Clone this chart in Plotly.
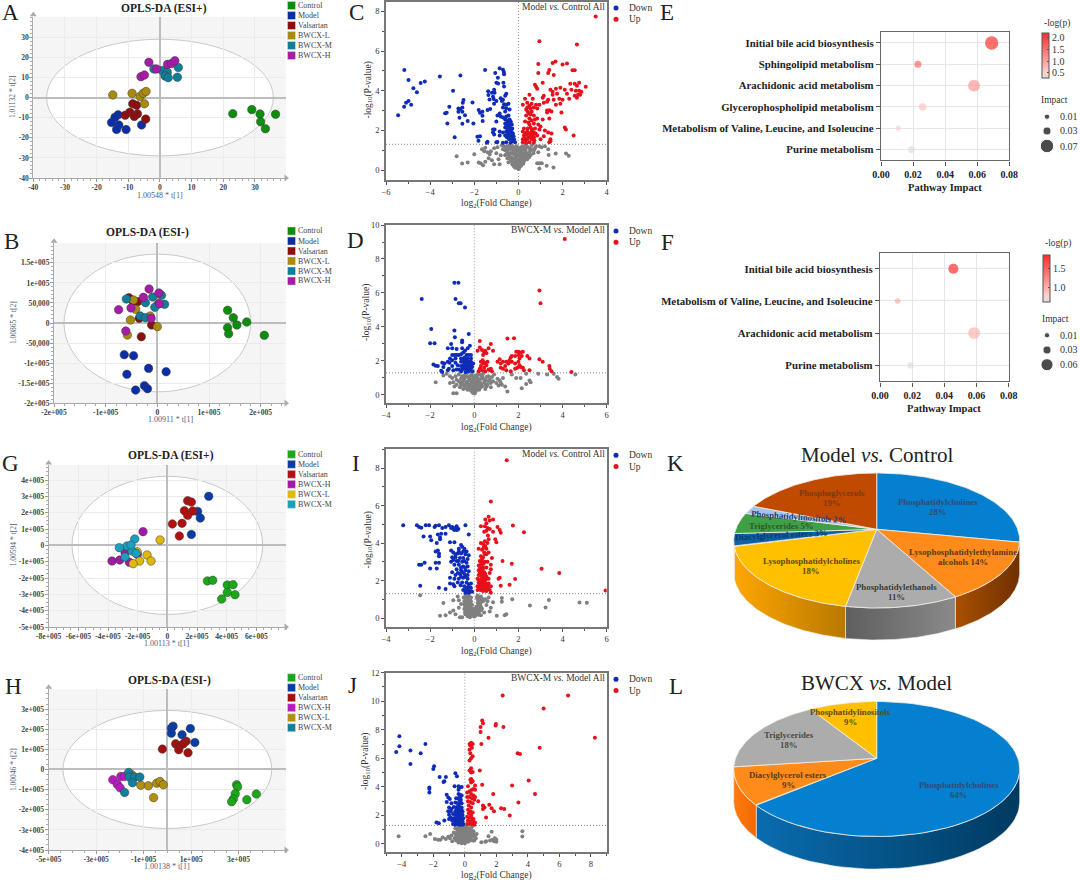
import numpy as np
import plotly.graph_objects as go

W, H = 1080, 882
SERIF = "Liberation Serif"

# ---- OPLS-DA scores
A_control = [(23, -8), (29, -6), (31.6, -8.2), (31.8, -12), (33.3, -15.5), (36.5, -8.3)]
A_model = [(-13.2, -8.6), (-14.2, -9.8), (-15.3, -12.4), (-13, -13.6), (-13.7, -15.9), (-10.7, -15.9), (-5.8, -13.6)]
A_valsartan = [(-11, -8.8), (-9.5, -7.3), (-8.6, -3.1), (-7.4, -3.8), (-7.1, -8.1), (-8.1, -9.4), (-4.5, -10.7)]
A_low = [(-14.9, 1.3), (-8.8, 2.1), (-6.3, 0.5), (-5.3, 2.1), (-4.4, 3), (-4.9, -3.1)]
A_mid = [(-1.9, 14.2), (0.7, 13.4), (2.3, 12.6), (1.6, 10.7), (2.6, 9.9), (5.5, 10.1), (5.8, 14.9)]
A_high = [(-3.5, 17.5), (-1.1, 14.2), (2.4, 16.5), (3.7, 16.9), (4.7, 18.3), (-6, 10.4), (-4.9, 11.2)]

B_control = [(136000, 31600), (147000, 13300), (154000, -5000), (173000, 2500), (136000, -11600), (138000, -26600), (207000, -30700)]
B_model = [(-64000, -78900), (-46000, -81400), (-17000, -113000), (17000, -121300), (-59000, -127900), (-25000, -156100), (-19000, -163600), (-42000, -167000)]
B_valsartan = [(-55000, 63100), (-38000, 53200), (-46000, 50700), (-35000, 11600), (-11000, -5000), (-31000, -34100), (2000, 47300)]
B_low = [(-46000, 57300), (-42000, 34100), (-52000, 7500), (-14000, 17400), (0, -9100), (-58000, -29900)]
B_mid = [(-60000, 59800), (-23000, 50700), (-9000, 64800), (8000, 68900), (14000, 46500), (-5000, 39000), (-33000, 17400), (-23000, 13300)]
B_high = [(-16000, 84700), (3000, 74800), (-27000, 64000), (-51000, 37400), (-75000, 33200), (4000, 48200), (-12000, 11600), (-61000, -19900)]

G_control = [(270000, -218000), (306000, -214000), (404000, -243000), (443000, -241000), (404000, -288000), (456000, -302000), (366000, -329000)]
G_model = [(279000, 300000), (204000, 208000), (222000, 167000), (162000, 67000)]
G_valsartan = [(137000, 273000), (162000, 265000), (115000, 212000), (171000, 210000), (137000, 184000), (34000, 131000), (99000, 135000), (81000, 57000)]
G_high = [(-164000, 84000), (-285000, -45000), (-373000, -96000), (-321000, -90000), (-256000, -104000), (-202000, -55000)]
G_low = [(-49000, 33000), (-137000, -59000), (-187000, -96000), (-110000, -96000), (-231000, -112000), (-204000, -39000)]
G_mid = [(-220000, 39000), (-272000, -4000), (-324000, -14000), (-238000, -35000), (-211000, -49000), (-285000, -71000), (-245000, 2000)]

H_control = [(292000, -76000), (296000, -86000), (286000, -121000), (278000, -147000), (271000, -160000), (335000, -150000), (375000, -122000)]
H_model = [(24000, 215000), (17000, 205000), (17000, 180000), (62000, 172000), (97000, 203000), (116000, 134000)]
H_valsartan = [(-21000, 101000), (35000, 127000), (79000, 140000), (67000, 127000), (53000, 117000), (48000, 98000), (87000, 83000)]
H_high = [(-230000, -51000), (-196000, -35000), (-211000, -74000), (-199000, -91000), (-182000, -35000)]
H_low = [(-112000, -78000), (-80000, -81000), (-45000, -68000), (-31000, -60000), (-17000, -76000), (-58000, -140000), (-150000, -26000)]
H_mid = [(-163000, -15000), (-160000, -38000), (-138000, -38000), (-116000, -38000), (-147000, -66000), (-180000, -114000)]

# ---- volcano points
C_down = [(-5.45, 2.76), (-5.18, 3.19), (-5.17, 5.04), (-5.09, 3.39), (-4.98, 3.48), (-4.86, 3.29), (-4.98, 4.54), (-4.76, 4.12), (-4.6, 3.93), (-4.43, 4.39), (-4.24, 4.47), (-3.56, 4.72), (-2.96, 4.0), (-2.63, 4.77), (-3.32, 2.86), (-3.25, 2.89), (-3.13, 3.19), (-3.22, 2.35), (-2.89, 1.65), (-2.72, 3.11), (-2.64, 3.08), (-2.54, 3.16), (-2.49, 3.53), (-2.52, 3.39), (-2.72, 2.94), (-2.54, 2.94), (-2.42, 2.77), (-2.67, 2.64), (-2.54, 2.34), (-2.3, 2.47), (-2.08, 3.41), (-2.04, 2.35), (-1.8, 3.03), (-1.74, 2.89), (-1.63, 2.94), (-1.63, 2.74), (-1.62, 2.47), (-1.86, 1.68), (-1.74, 1.71), (-1.81, 1.48), (-1.51, 5.04), (-1.37, 3.97), (-1.36, 3.78), (-1.31, 3.56), (-1.4, 3.03), (-1.28, 3.08), (-1.4, 1.43), (-1.43, 1.38),
          (-0.85, 5.14), (-0.7, 5.06), (-0.66, 4.95), (-0.65, 4.83), (-1.05, 4.9), (-0.93, 4.65), (-1, 4.4), (-0.92, 4.37), (-0.68, 4.4), (-0.65, 4.22), (-1.1, 4.05), (-1.08, 3.9), (-1.2, 3.9), (-0.55, 3.85), (-0.6, 3.75), (-1.15, 3.7), (-1.12, 3.58), (-0.8, 3.62), (-1, 3.48), (-0.75, 3.48), (-0.7, 3.55), (-1.1, 3.35), (-0.65, 3.32), (-0.55, 3.3), (-0.45, 3.35), (-0.7, 3.15), (-0.55, 3.12), (-0.4, 3.05), (-0.6, 2.95), (-0.85, 2.85), (-0.95, 2.75), (-1.0, 2.45), (-0.8, 2.7), (-0.7, 2.65), (-0.55, 2.7), (-0.45, 2.75), (-0.6, 2.55), (-0.5, 2.5), (-0.4, 2.55), (-0.35, 2.45), (-0.6, 2.35), (-0.52, 2.3), (-0.42, 2.3), (-0.3, 2.3), (-0.6, 2.15), (-0.5, 2.12), (-0.38, 2.15), (-0.28, 2.1), (-1.15, 2.05), (-1.08, 2.05), (-1.15, 1.9), (-1.1, 1.8), (-0.85, 1.95), (-0.7, 1.9), (-0.55, 1.95), (-0.42, 1.95), (-0.32, 1.95), (-0.25, 1.85), (-0.85, 1.75), (-0.6, 1.75), (-0.45, 1.75), (-0.35, 1.7), (-0.22, 1.7), (-0.3, 1.55), (-0.42, 1.55), (-0.25, 1.45), (-0.35, 1.38), (-0.55, 1.4), (-0.7, 1.38), (-0.95, 1.42), (-1.0, 1.4), (-0.15, 1.4),
          (-0.46, 2.05), (-0.34, 2.02), (-0.5, 1.85), (-0.38, 1.82), (-0.28, 1.78), (-0.52, 1.65), (-0.4, 1.62), (-0.28, 1.6), (-0.2, 1.55), (-0.48, 2.4), (-0.36, 2.38), (-0.55, 2.22), (-0.44, 2.2)]
C_up = [(3.5, 7.75), (0.95, 6.5), (2.65, 6.33), (0.9, 5.35), (1.55, 5.4), (1.68, 5.47), (2.2, 5.38), (2.0, 5.32), (1.4, 5.05), (1.35, 4.9), (2.45, 5.03), (2.55, 5.03), (0.9, 4.9), (1.6, 4.8), (1.1, 4.4), (0.75, 4.3), (0.8, 4.2), (0.85, 4.1), (3.05, 4.2), (2.35, 4.35), (2.55, 4.35), (2.75, 4.4), (2.65, 4.25), (1.7, 4.1), (1.45, 4.05), (1.55, 3.95), (1.9, 4.15), (2.1, 4.05), (2.4, 4.05), (2.6, 4.0), (2.75, 4.0), (2.85, 3.95), (1.55, 3.8), (1.75, 3.85), (2.2, 3.85), (2.55, 3.75), (2.65, 3.65), (2.8, 3.8), (0.5, 3.8), (0.3, 3.6), (0.65, 3.6), (1.1, 3.65), (1.15, 3.75), (1.35, 3.55), (1.6, 3.55), (1.85, 3.6), (2.0, 3.55), (2.3, 3.6), (2.7, 3.8), (0.2, 3.3), (0.4, 3.4), (0.6, 3.35), (0.8, 3.3), (0.95, 3.3), (1.15, 3.4), (1.3, 3.45), (1.7, 3.3), (1.9, 3.35), (0.4, 3.15), (0.55, 3.1), (0.7, 3.15), (0.85, 3.1), (0.42, 2.95), (0.6, 2.95), (1.3, 3.0), (1.4, 3.02), (1.5, 2.95), (1.95, 2.9), (0.35, 2.75), (0.55, 2.8), (0.7, 2.75), (1.3, 2.9), (0.5, 2.6), (0.75, 2.55), (0.85, 2.6), (1.1, 2.55), (1.4, 2.6), (0.3, 2.45), (0.45, 2.4), (0.7, 2.35), (0.9, 2.3), (1.0, 2.2), (0.25, 2.1), (0.55, 2.15), (0.75, 2.1), (0.95, 2.05), (2.1, 2.15), (2.15, 2.05), (0.2, 1.95), (0.4, 1.95), (0.6, 1.95), (0.7, 1.9), (1.2, 2.0), (1.35, 1.9), (1.5, 1.85), (0.25, 1.75), (0.35, 1.78), (0.55, 1.75), (0.65, 1.75), (0.85, 1.75), (1.15, 1.7), (1.45, 1.55), (2.5, 1.75), (0.2, 1.55), (0.3, 1.55), (0.4, 1.55), (0.6, 1.55), (0.72, 1.5), (1.0, 1.55), (0.2, 1.4), (0.35, 1.38), (0.5, 1.4), (0.7, 1.38), (1.4, 1.4), (1.45, 1.45),
        (0.3, 1.85), (0.48, 1.85), (0.62, 1.85), (0.78, 1.85), (0.28, 1.62), (0.45, 1.65), (0.58, 1.65), (0.7, 1.65), (0.42, 2.1), (0.62, 2.05), (0.5, 2.3), (0.6, 2.5), (0.48, 2.85), (0.35, 3.05), (0.5, 3.25)]
C_ns = [(-2.8, 0.7), (-2.55, 0.33), (-2.3, 0.38), (-2.0, 0.8), (-1.8, 0.38), (-1.7, 0.33), (-1.6, 0.25), (-1.65, 1.05), (-1.5, 1.12), (-1.55, 0.95), (-1.4, 0.9), (-1.3, 0.8), (-1.25, 0.95), (-1.1, 1.1), (-1.0, 0.85), (-1.35, 0.6), (-1.5, 0.42), (-1.2, 0.5), (-1.1, 0.3), (-0.9, 0.55), (-0.85, 0.3), (-0.8, 0.75), (-0.65, 1.2), (-0.6, 1.0), (-0.55, 0.8), (-0.5, 0.6), (-0.45, 0.4), (-0.4, 1.25), (-0.4, 1.05), (-0.35, 0.85), (-0.32, 0.65), (-0.3, 0.45), (-0.25, 1.2), (-0.22, 1.0), (-0.2, 0.8), (-0.18, 0.6), (-0.15, 0.35), (-0.12, 1.1), (-0.1, 0.85), (-0.1, 0.6), (-0.08, 0.35), (-0.05, 0.2), (-0.02, 0.08), (0.02, 0.05), (0.05, 0.15), (0.08, 0.3), (0.1, 0.55), (0.1, 0.85), (0.12, 1.15), (0.15, 0.35), (0.18, 0.6), (0.2, 0.85), (0.22, 1.2), (0.25, 0.45), (0.3, 0.7), (0.32, 1.0), (0.35, 1.25), (0.4, 0.55), (0.42, 0.85), (0.5, 1.1), (0.55, 0.75), (0.6, 1.25), (0.7, 1.0), (0.8, 1.2), (0.9, 0.9), (1.05, 1.15), (1.2, 1.2), (1.35, 1.05), (0.85, 0.35), (0.95, 0.34), (0.95, 0.08), (1.28, 0.22), (1.59, 0.13), (1.69, 0.84), (1.37, 0.76), (2.16, 0.84), (2.28, 0.72), (1.06, 0.34),
        (-0.5, 1.2), (-0.48, 1.0), (-0.45, 0.8), (-0.4, 0.7), (-0.35, 0.55), (-0.28, 0.3), (-0.22, 0.2), (-0.15, 0.12), (-0.3, 1.1), (-0.15, 0.95), (-0.05, 1.0), (-0.05, 0.72), (-0.05, 0.45), (0.02, 1.1), (0.02, 0.75), (0.02, 0.45), (0.02, 0.25), (0.05, 0.95), (0.08, 0.7), (0.08, 0.42), (0.12, 0.22), (0.15, 1.0), (0.18, 0.45), (0.22, 0.72), (0.28, 1.12), (0.28, 0.85), (0.35, 0.62), (0.42, 1.15), (0.5, 0.9), (0.62, 1.05), (-0.7, 1.05), (-0.75, 1.25), (-0.95, 1.15),
        (-0.6, 0.75), (-0.55, 1.15), (-0.5, 0.9), (-0.42, 0.6), (-0.36, 1.18), (-0.28, 0.9), (-0.26, 0.55), (-0.2, 0.35), (-0.15, 0.75), (-0.15, 0.5), (-0.1, 0.22), (-0.08, 1.2), (0.06, 0.55), (0.06, 1.05), (0.14, 0.72), (0.22, 0.32), (0.24, 1.05), (0.3, 0.55), (0.38, 0.75), (0.48, 0.65), (0.55, 1.0), (0.68, 0.85), (0.75, 1.1), (0.95, 1.2)]

D_down = [(-2.38, 5.65), (-0.9, 6.6), (-0.72, 6.6), (-0.85, 5.65), (-0.7, 5.4), (-0.62, 5.4), (-0.42, 5.15), (-1.95, 3.88), (-0.9, 3.8), (-0.25, 3.58), (-0.88, 3.4), (-2.0, 3.05), (-1.8, 3.05), (-0.55, 3.2), (-0.55, 3.1), (-1.05, 3.0), (-0.2, 2.9), (-1.2, 2.75), (-1.0, 2.75), (-0.8, 2.7), (-0.55, 2.75), (-0.3, 2.75), (-1.0, 2.35), (-0.9, 2.35), (-0.8, 2.35), (-0.7, 2.35), (-0.6, 2.4), (-0.5, 2.5), (-0.42, 2.6), (-0.35, 2.35), (-0.25, 2.35), (-0.15, 2.35), (-1.1, 2.15), (-1.0, 2.05), (-0.85, 2.15), (-0.6, 2.15), (-0.45, 2.2), (-0.3, 2.15), (-0.15, 2.15), (-1.2, 1.95), (-1.12, 1.9), (-1.35, 1.85), (-1.85, 1.8), (-1.75, 1.72), (-1.65, 1.7), (-1.45, 1.9), (-0.85, 1.9), (-0.6, 1.95), (-0.5, 1.95), (-0.38, 1.95), (-0.25, 1.95), (-0.15, 1.95), (-0.05, 1.85), (-1.4, 1.65), (-1.0, 1.7), (-0.75, 1.75), (-0.6, 1.7), (-0.48, 1.75), (-0.35, 1.75), (-0.22, 1.75), (-0.1, 1.65), (-1.5, 1.42), (-1.45, 1.35), (-1.2, 1.45), (-1.15, 1.55), (-0.95, 1.45), (-0.8, 1.5), (-0.7, 1.5), (-0.55, 1.5), (-0.42, 1.55), (-0.3, 1.5), (-0.2, 1.5), (-0.08, 1.4), (-0.6, 1.38), (-0.4, 1.35), (-0.25, 1.38),
          (-0.42, 1.62), (-0.3, 1.62), (-0.52, 1.62), (-0.28, 1.85), (-0.42, 1.85), (-0.12, 1.78), (-0.15, 1.58), (-0.5, 2.08), (-0.38, 2.08)]
D_up = [(4.1, 9.18), (2.95, 6.15), (3.0, 5.4), (1.5, 3.32), (1.8, 3.33), (0.25, 3.18), (0.75, 3.0), (0.25, 2.8), (0.35, 2.65), (0.15, 2.6), (0.5, 2.6), (0.45, 2.5), (0.65, 2.75), (0.85, 2.6), (0.4, 2.35), (0.55, 2.45), (1.9, 2.55), (2.0, 2.55), (2.1, 2.5), (2.2, 2.55), (2.4, 2.3), (2.5, 2.15), (1.7, 2.3), (1.65, 2.2), (1.85, 2.3), (2.0, 2.35), (2.05, 2.15), (2.15, 2.3), (1.15, 2.1), (1.6, 2.05), (1.7, 1.95), (1.3, 1.95), (1.05, 1.95), (1.2, 1.85), (1.45, 1.95), (1.55, 1.85), (1.85, 1.85), (1.4, 1.7), (1.2, 1.6), (1.3, 1.55), (1.45, 1.45), (1.65, 1.4), (2.0, 1.95), (2.05, 1.75), (2.1, 1.65), (1.95, 1.6), (1.85, 1.55), (2.2, 1.6), (2.25, 1.45), (2.5, 1.45), (2.95, 2.1), (3.1, 1.95), (3.4, 1.7), (3.42, 1.55), (3.5, 1.4), (4.4, 1.35), (0.2, 1.4), (0.25, 1.55), (0.3, 1.7), (0.35, 1.45), (0.4, 1.85), (0.45, 1.6), (0.5, 1.4), (0.55, 1.75), (0.6, 1.95), (0.3, 1.95), (0.38, 2.05), (0.75, 1.55), (0.8, 1.4), (0.72, 1.45), (0.65, 1.5), (0.48, 1.9)]
D_ns = [(-1.75, 0.75), (-1.4, 1.15), (-1.25, 1.25), (-1.1, 1.1), (-1.0, 1.0), (-1.1, 0.7), (-0.95, 0.75), (-0.9, 0.5), (-0.8, 0.9), (-0.8, 0.6), (-0.7, 1.2), (-0.7, 0.8), (-0.65, 0.45), (-0.55, 1.1), (-0.55, 0.7), (-0.5, 0.35), (-0.45, 0.95), (-0.4, 0.6), (-0.35, 1.25), (-0.3, 0.8), (-0.28, 0.4), (-0.2, 1.1), (-0.2, 0.6), (-0.15, 0.25), (-0.1, 0.9), (-0.1, 0.45), (-0.05, 0.12), (0.02, 0.08), (0.08, 0.25), (0.1, 0.5), (0.12, 0.85), (0.18, 1.2), (0.2, 0.6), (0.22, 0.3), (0.3, 0.95), (0.35, 0.5), (0.4, 1.25), (0.45, 0.75), (0.5, 0.35), (0.55, 1.05), (0.6, 0.6), (0.7, 0.9), (0.75, 0.45), (0.85, 0.8), (0.9, 1.2), (1.0, 0.7), (1.1, 0.55), (1.15, 0.85), (1.3, 1.0), (1.25, 0.6), (1.4, 0.5), (1.5, 0.2), (-0.95, 0.1), (-0.8, 0.1), (2.15, 0.4), (2.35, 0.65), (2.5, 0.85), (2.55, 0.75), (1.7, 1.2), (1.9, 1.0), (2.1, 1.0), (2.35, 1.25), (2.9, 1.25), (3.3, 1.2), (3.6, 1.25), (3.75, 1.05), (3.82, 0.95), (4.58, 1.2),
        (-0.6, 0.95), (-0.6, 0.55), (-0.45, 0.55), (-0.45, 1.15), (-0.35, 0.75), (-0.35, 0.4), (-0.28, 1.05), (-0.25, 0.6), (-0.2, 0.85), (-0.2, 0.35), (-0.12, 0.7), (-0.12, 1.2), (-0.05, 1.05), (-0.05, 0.6), (-0.05, 0.3), (0.02, 0.9), (0.02, 0.5), (0.05, 1.15), (0.08, 0.7), (0.15, 0.4), (0.15, 1.0), (0.25, 0.75), (0.25, 1.2), (0.4, 0.95), (0.5, 0.6), (0.65, 1.1), (0.62, 0.82), (-0.85, 1.1), (-0.62, 0.72),
        (-0.5, 0.82), (-0.4, 1.05), (-0.4, 0.48), (-0.3, 0.62), (-0.3, 0.3), (-0.22, 0.95), (-0.15, 0.48), (-0.08, 0.8), (-0.08, 0.18), (0.0, 0.72), (0.0, 0.38), (0.05, 0.2), (0.1, 1.05), (0.12, 0.62), (0.2, 0.8), (0.28, 0.45), (0.32, 0.65), (0.35, 1.1), (0.5, 0.85), (0.55, 0.5), (0.75, 0.7), (0.8, 1.05), (1.05, 0.95), (1.2, 0.72)]

I_down = [(-3.22, 4.95), (-2.6, 4.95), (-2.5, 4.85), (-2.4, 4.82), (-2.2, 4.95), (-2.05, 4.95), (-1.8, 4.85), (-1.75, 4.92), (-1.6, 4.95), (-1.45, 4.8), (-1.3, 4.85), (-1.15, 4.95), (-1.05, 4.8), (-0.95, 4.75), (-0.85, 4.8), (-0.8, 4.9), (-0.72, 4.75), (-0.4, 4.95), (-2.3, 4.35), (-2.0, 4.35), (-1.65, 4.45), (-1.55, 4.3), (-1.5, 4.5), (-1.3, 4.5), (-0.25, 4.45), (-1.7, 4.0), (-1.95, 4.15), (-1.55, 4.2), (-1.1, 4.05), (-0.6, 3.9), (-0.9, 4.05), (-1.65, 3.6), (-1.6, 3.45), (-1.75, 3.55), (-1.05, 3.6), (-0.95, 3.5), (-0.7, 3.7), (-0.55, 3.8), (-0.45, 3.7), (-0.35, 3.55), (-0.75, 3.45), (-0.6, 3.45), (-0.4, 3.4), (-0.25, 3.35), (-1.6, 3.3), (-1.0, 3.25), (-0.85, 3.25), (-0.65, 3.2), (-0.5, 3.2), (-0.3, 3.15), (-2.5, 2.85), (-2.4, 2.85), (-2.25, 2.95), (-1.75, 2.95), (-1.6, 2.95), (-1.05, 3.0), (-0.8, 3.05), (-0.55, 3.0), (-0.35, 2.95), (-2.0, 2.65), (-1.7, 2.65), (-0.9, 2.85), (-0.7, 2.85), (-0.5, 2.75), (-0.3, 2.75), (-1.0, 2.45), (-0.8, 2.6), (-0.6, 2.55), (-0.4, 2.55), (-0.25, 2.5), (-0.85, 2.3), (-0.65, 2.35), (-0.45, 2.35), (-1.1, 2.15), (-0.9, 2.1), (-0.7, 2.1), (-0.5, 2.15), (-0.3, 2.1), (-0.75, 1.9), (-0.55, 1.9), (-0.35, 1.9), (-0.15, 1.85), (-2.45, 1.72), (-1.6, 1.62), (-1.3, 1.55), (-1.1, 1.85), (-0.95, 1.8), (-0.9, 1.7), (-0.45, 1.7), (-0.3, 1.65), (-0.15, 1.6), (-0.5, 1.5), (-0.35, 1.45), (-0.2, 1.4), (-0.1, 1.4), (-0.4, 1.35), (-0.25, 1.35),
          (-1.0, 4.85), (-0.9, 4.7), (-0.78, 4.7), (-0.7, 3.55), (-0.5, 3.55), (-0.85, 3.4), (-0.95, 3.1), (-0.72, 3.05), (-0.45, 3.05), (-0.6, 2.7), (-0.42, 2.7), (-0.75, 2.4), (-0.55, 2.45), (-0.3, 2.3), (-0.6, 2.2), (-0.4, 2.2), (-0.62, 1.75), (-0.25, 1.8), (-0.38, 1.6), (-0.28, 1.5), (-0.2, 1.65)]
I_up = [(1.47, 8.42), (0.75, 6.22), (1.75, 4.93), (2.25, 4.58), (0.65, 5.4), (0.85, 5.25), (0.7, 5.2), (0.5, 5.25), (0.55, 5.05), (0.48, 4.9), (0.3, 4.9), (0.6, 4.8), (0.7, 4.75), (0.45, 4.6), (0.55, 4.65), (1.05, 4.85), (1.15, 4.7), (1.2, 4.55), (0.62, 4.4), (0.85, 4.6), (0.65, 4.2), (0.6, 4.0), (0.95, 4.2), (1.0, 4.05), (0.3, 4.0), (0.4, 3.95), (0.5, 3.85), (0.55, 3.7), (0.2, 3.7), (0.35, 3.65), (0.45, 3.5), (0.55, 3.4), (0.65, 3.5), (0.8, 3.2), (0.3, 3.3), (0.4, 3.25), (1.28, 3.05), (0.25, 3.05), (0.35, 3.0), (0.48, 3.0), (0.6, 3.0), (0.75, 2.85), (1.7, 2.9), (3.05, 2.63), (3.85, 2.4), (0.2, 2.8), (0.3, 2.8), (0.4, 2.7), (0.55, 2.7), (0.2, 2.55), (0.32, 2.5), (0.45, 2.45), (0.75, 2.6), (0.7, 2.4), (0.2, 2.3), (0.3, 2.25), (0.42, 2.25), (0.55, 2.2), (0.15, 2.1), (0.28, 2.05), (0.4, 2.0), (0.52, 2.05), (1.1, 2.1), (1.15, 2.15), (1.85, 2.08), (0.65, 2.1), (0.2, 1.9), (0.35, 1.85), (0.5, 1.85), (0.65, 1.85), (1.2, 1.72), (1.6, 1.78), (0.15, 1.7), (0.3, 1.68), (0.45, 1.7), (0.6, 1.65), (0.75, 1.7), (0.15, 1.5), (0.28, 1.5), (0.4, 1.45), (0.55, 1.45), (0.7, 1.5), (5.95, 1.47), (0.75, 1.35),
        (0.22, 1.6), (0.35, 1.58), (0.48, 1.58), (0.62, 1.55), (0.25, 1.8), (0.42, 1.78), (0.58, 1.75), (0.22, 2.0), (0.35, 1.95), (0.46, 1.95), (0.35, 2.15), (0.48, 2.15), (0.25, 2.4), (0.38, 2.38), (0.5, 2.35), (0.26, 2.65), (0.38, 2.6), (0.3, 2.95), (0.42, 2.9), (0.35, 3.15), (0.48, 3.4), (0.42, 3.75), (0.48, 4.1)]
I_ns = [(-2.45, 1.22), (-1.4, 0.8), (-1.55, 0.13), (-1.3, 0.15), (-1.1, 0.3), (-0.95, 0.4), (-0.95, 0.95), (-0.75, 1.15), (-0.7, 0.95), (-0.7, 0.55), (-0.85, 0.2), (-0.65, 0.05), (-0.55, 0.05), (-0.6, 0.75), (-0.4, 1.25), (-0.4, 1.0), (-0.4, 0.8), (-0.4, 0.6), (-0.4, 0.4), (-0.4, 0.2), (-0.3, 1.15), (-0.3, 0.9), (-0.3, 0.7), (-0.3, 0.5), (-0.3, 0.3), (-0.3, 0.1), (-0.2, 1.0), (-0.2, 0.8), (-0.2, 0.6), (-0.2, 0.4), (-0.2, 0.2), (-0.2, 0.05), (-0.1, 0.7), (-0.1, 0.5), (-0.1, 0.3), (-0.1, 0.12), (0, 0.08), (0.05, 0.25), (0.05, 0.12), (0.1, 0.4), (0.1, 0.6), (0.15, 0.8), (0.15, 1.0), (0.15, 1.2), (0.2, 0.3), (0.2, 0.5), (0.25, 0.7), (0.25, 0.95), (0.3, 1.15), (0.3, 0.15), (0.35, 0.5), (0.4, 0.9), (0.45, 0.3), (0.5, 1.0), (0.55, 0.7), (0.6, 0.9), (0.65, 1.1), (0.75, 0.55), (0.7, 0.35), (1.02, 0.12), (1.25, 1.07), (1.25, 0.87), (1.38, 0.15), (1.45, 0.2), (1.72, 1.0), (2.52, 0.67), (3.23, 0.56), (3.38, 0.96), (4.77, 0.83), (5.1, 0.82), (0.85, 0.85),
        (-0.35, 1.1), (-0.35, 0.62), (-0.25, 1.0), (-0.25, 0.42), (-0.15, 0.9), (-0.15, 0.55), (-0.15, 0.28), (-0.05, 0.4), (-0.05, 0.2), (0.02, 0.5), (0.08, 0.35), (0.15, 0.55), (0.2, 0.18), (0.1, 0.2), (0.22, 0.85), (0.3, 0.6), (0.3, 0.4), (-0.45, 0.9), (-0.45, 0.5), (-0.48, 1.1),
        (-0.35, 0.8), (-0.35, 0.45), (-0.35, 0.22), (-0.25, 0.72), (-0.25, 0.18), (-0.25, 1.2), (-0.15, 0.72), (-0.15, 1.1), (-0.42, 0.7), (-0.42, 0.3), (-0.45, 0.72), (0.12, 1.1), (0.22, 1.1), (0.28, 0.78), (0.35, 1.05), (0.2, 0.68)]

J_down = [(-4.35, 6.45), (-4.15, 7.55), (-4.15, 6.85), (-3.45, 6.55), (-3.45, 5.6), (-2.8, 6.35), (-2.5, 7.0), (-1.95, 5.45), (-2.0, 5.25), (-1.6, 4.7), (-1.2, 4.7), (-1.35, 4.35), (-1.3, 4.4), (-0.6, 4.95), (-0.5, 4.75), (-2.25, 3.95), (-2.25, 3.6), (-2.25, 3.85), (-0.65, 4.05), (-0.4, 4.05), (-0.35, 3.95), (-0.2, 4.0), (-0.4, 3.8), (-1.15, 3.45), (-1.05, 3.25), (-0.95, 3.15), (-1.15, 2.95), (-0.4, 3.5), (-0.3, 3.45), (-0.2, 3.4), (-0.55, 3.2), (-0.35, 3.1), (-0.25, 3.1), (-0.85, 2.85), (-0.6, 2.9), (-0.45, 2.85), (-0.2, 2.85), (-1.0, 2.55), (-0.85, 2.45), (-0.7, 2.6), (-0.5, 2.6), (-0.35, 2.6), (-0.2, 2.55), (-1.05, 2.3), (-0.9, 2.3), (-0.6, 2.3), (-0.45, 2.3), (-0.3, 2.35), (-0.15, 2.3), (-1.0, 2.05), (-0.75, 2.1), (-0.6, 2.05), (-0.45, 2.05), (-0.3, 2.05), (-0.15, 2.05), (-0.9, 1.85), (-1.0, 1.75), (-0.7, 1.8), (-0.55, 1.85), (-0.4, 1.85), (-0.25, 1.8), (-0.1, 1.8), (-1.3, 1.65), (-0.8, 1.65), (-0.6, 1.6), (-0.45, 1.6), (-0.3, 1.6), (-0.15, 1.6), (-1.8, 1.5), (-1.65, 1.45), (-0.75, 1.4), (-0.55, 1.4), (-0.4, 1.4), (-0.25, 1.4), (-0.1, 1.4), (-0.62, 1.35), (-0.35, 1.35), (-0.15, 1.35),
          (-0.52, 2.45), (-0.38, 2.45), (-0.22, 2.45), (-0.52, 2.2), (-0.38, 2.2), (-0.22, 2.2), (-0.52, 1.95), (-0.38, 1.95), (-0.22, 1.95), (-0.65, 1.7), (-0.5, 1.72), (-0.35, 1.72), (-0.2, 1.7), (-0.5, 1.5), (-0.35, 1.5), (-0.2, 1.5), (-0.4, 3.2), (-0.3, 3.25), (-0.3, 2.9), (-0.38, 2.75)]
J_up = [(6.55, 10.4), (2.4, 10.4), (5.0, 9.5), (1.1, 8.65), (1.15, 8.45), (1.0, 8.2), (1.97, 8.4), (1.95, 8.3), (2.45, 8.2), (1.0, 7.85), (8.25, 7.45), (1.5, 7.45), (0.3, 7.0), (0.4, 7.1), (0.35, 6.9), (0.5, 7.0), (0.45, 6.75), (1.05, 7.0), (4.75, 6.75), (0.3, 6.6), (0.35, 6.35), (3.35, 6.35), (3.5, 6.3), (0.5, 6.15), (0.4, 6.0), (0.3, 5.85), (0.4, 5.3), (0.3, 5.15), (0.5, 5.05), (0.4, 5.0), (0.95, 5.15), (0.4, 4.55), (0.45, 4.45), (0.35, 4.5), (0.5, 4.4), (4.05, 4.45), (0.4, 4.3), (1.1, 4.15), (3.0, 4.1), (0.2, 4.05), (0.65, 4.1), (0.55, 3.85), (0.65, 3.8), (0.45, 3.8), (0.3, 3.7), (0.15, 3.6), (4.45, 3.5), (1.8, 3.5), (0.4, 3.5), (0.55, 3.4), (0.65, 3.3), (0.3, 3.3), (0.15, 3.3), (0.45, 3.2), (0.6, 3.1), (0.85, 3.0), (3.4, 2.9), (0.2, 3.0), (0.35, 2.95), (0.5, 2.85), (1.15, 2.7), (1.55, 2.75), (0.25, 2.7), (0.4, 2.55), (1.25, 2.55), (1.15, 2.45), (1.7, 2.5), (2.3, 2.5), (2.5, 2.45), (0.2, 2.4), (0.35, 2.3), (1.85, 2.3), (0.5, 2.2), (0.25, 2.15), (0.4, 2.0), (2.85, 2.0), (1.35, 1.85), (0.15, 1.9), (0.3, 1.85), (0.45, 1.8), (0.55, 1.75), (0.2, 1.65), (0.35, 1.6), (0.5, 1.6), (0.65, 1.5), (0.15, 1.4), (0.3, 1.4), (0.45, 1.4), (0.6, 1.35)]
J_ns = [(-4.2, 0.55), (-2.5, 0.55), (-2.2, 0.7), (-1.9, 0.35), (-1.7, 0.3), (-1.55, 0.3), (-1.4, 0.45), (-1.2, 0.35), (-1.05, 0.5), (-0.95, 0.4), (-0.85, 0.6), (-0.8, 0.2), (-0.7, 0.8), (-0.65, 0.4), (-0.6, 1.1), (-0.55, 0.25), (-0.5, 0.8), (-0.45, 0.5), (-0.4, 1.2), (-0.4, 0.1), (-0.35, 0.9), (-0.3, 0.65), (-0.25, 0.35), (-0.2, 1.2), (-0.2, 0.95), (-0.2, 0.05), (-0.15, 0.7), (-0.1, 0.45), (-0.1, 1.1), (-0.05, 0.2), (0, 0.9), (0, 0.05), (0.05, 0.6), (0.1, 0.35), (0.1, 1.2), (0.15, 0.85), (0.2, 0.15), (0.25, 0.55), (0.3, 1.1), (0.35, 0.35), (0.4, 0.8), (0.45, 1.2), (0.5, 0.5), (0.55, 0.9), (0.6, 0.25), (0.65, 0.65), (0.7, 0.4), (0.75, 0.7), (1.05, 0.12), (1.3, 0.15), (1.35, 0.2), (1.5, 0.55), (1.6, 0.25), (1.7, 0.85), (1.75, 0.3), (1.85, 0.2), (1.9, 0.4), (2.0, 0.3), (2.0, 0.15), (3.65, 0.9), (3.65, 0.52),
        (-0.6, 0.7), (-0.6, 0.45), (-0.5, 1.05), (-0.5, 0.55), (-0.5, 0.3), (-0.35, 1.1), (-0.35, 0.6), (-0.35, 0.2), (-0.25, 0.85), (-0.25, 0.5), (-0.2, 0.2), (-0.1, 0.9), (-0.1, 0.65), (-0.1, 0.2), (0, 1.15), (0, 0.7), (0, 0.4), (0.05, 0.25), (0.1, 1.0), (0.1, 0.6), (0.2, 0.8), (0.2, 0.4), (0.3, 0.9), (0.3, 0.6), (0.3, 0.25), (0.4, 1.05), (0.4, 0.5), (0.5, 0.75), (0.5, 0.25), (0.6, 0.55),
        (-0.45, 0.95), (-0.45, 0.7), (-0.42, 0.3), (-0.3, 1.0), (-0.3, 0.4), (-0.2, 0.55), (-0.15, 1.05), (-0.15, 0.3), (-0.05, 0.75), (-0.05, 0.5), (0.02, 1.0), (0.08, 0.45), (0.15, 0.6), (0.15, 1.1), (0.22, 0.25), (0.22, 0.95), (0.35, 0.75), (0.35, 0.5)]

# ---- pathway bubbles
E_paths = ["Initial bile acid biosynthesis", "Sphingolipid metabolism", "Arachidonic acid metabolism",
           "Glycerophospholipid metabolism", "Metabolism of Valine, Leucine, and Isoleucine", "Purine metabolism"]
E_impact = [0.069, 0.023, 0.058, 0.026, 0.0107, 0.019]
E_logp = [2.1, 1.55, 1.1, 0.65, 0.5, 0.29]
F_paths = ["Initial bile acid biosynthesis", "Metabolism of Valine, Leucine, and Isoleucine",
           "Arachidonic acid metabolism", "Purine metabolism"]
F_impact = [0.0456, 0.011, 0.0585, 0.019]
F_logp = [1.85, 1.0, 0.95, 0.6]

# ---- lipid pies (percent)
K_shares = [28, 14, 11, 18, 3, 5, 2, 19]
K_colors = ["#0580D0", "#FF8C1A", "#ACACAC", "#FFC000", "#0F62A8", "#3FA046", "#A4C2EA", "#C04A00"]
K_walls = [("#004070", "#004070"), ("#A85000", "#703000"), ("#5E5E5E", "#8A8A8A"), ("#FFA600", "#B87800"),
           ("#0A4A80", "#0A4A80"), ("#2A7030", "#2A7030"), ("#7090C0", "#7090C0"), ("#803000", "#803000")]
L_shares = [64, 9, 18, 9]
L_colors = ["#0580D0", "#FF8C1A", "#ACACAC", "#FFC000"]
L_walls = [("#0A6CB0", "#003A60"), ("#FF7A10", "#F06A00"), ("#808080", "#808080"), ("#B08400", "#B08400")]

GROUPS_1 = ["Control", "Model", "Valsartan", "BWCX-L", "BWCX-M", "BWCX-H"]
COLORS_1 = ["#0B8F0B", "#0B2EA8", "#8E0E0E", "#A88B0C", "#0E7E9A", "#A81AA8"]
GROUPS_2 = ["Control", "Model", "Valsartan", "BWCX-H", "BWCX-L", "BWCX-M"]
COLORS_2 = ["#18A818", "#0A3CA8", "#B01010", "#A01AA8", "#E0B80C", "#18A0C0"]
COLORS_3 = ["#18A818", "#0A3CA8", "#A01010", "#B81AC0", "#B0900C", "#10809C"]

fig = go.Figure()
axes = {}
shapes = []
annots = []
axis_count = 1


def new_axes(x0, x1, y0, y1, xaxis, yaxis):
    global axis_count
    n = axis_count
    axis_count += 1
    s = "" if n == 1 else str(n)
    axes["xaxis" + s] = dict(domain=[x0 / W, x1 / W], anchor="y" + s, fixedrange=True, automargin=False, **xaxis)
    axes["yaxis" + s] = dict(domain=[1 - y1 / H, 1 - y0 / H], anchor="x" + s, fixedrange=True, automargin=False, **yaxis)
    return "x" + s, "y" + s


def label(x, y, text, size=9, color="#333", anchor="center", angle=0):
    annots.append(dict(xref="paper", yref="paper", x=x / W, y=1 - y / H, text=text, showarrow=False,
                       xanchor=anchor, yanchor="middle", textangle=angle, borderpad=0, borderwidth=0,
                       font=dict(family=SERIF, size=size, color=color)))


def pts(trace_xy):
    return [p[0] for p in trace_xy], [p[1] for p in trace_xy]


def opls(box, xr, yr, xticks, xtext, yticks, ytext, xminor, yminor, ell, groups, names, colors, title, tpos, xlab, xpos, ylab, ypos, leg_y):
    x0, x1, y0, y1 = box
    tick = dict(family=SERIF, size=7.6, color="#444")
    common = dict(showline=True, linecolor="#aaa", linewidth=1, ticks="outside", ticklen=3, tickcolor="#999",
                  gridcolor="#ebebeb", gridwidth=1, zeroline=True, zerolinecolor="#bdbdbd", zerolinewidth=2,
                  tickfont=tick, tickangle=0, ticklabelstandoff=-1)
    xa, ya = new_axes(x0, x1, y0, y1,
                      dict(range=xr, tickmode="array", tickvals=xticks, ticktext=["<b>%s</b>" % t for t in xtext],
                           minor=dict(ticks="outside", ticklen=2, tickcolor="#aaa", dtick=xminor, showgrid=False), **common),
                      dict(range=yr, tickmode="array", tickvals=yticks, ticktext=["<b>%s</b>" % t for t in ytext],
                           minor=dict(ticks="outside", ticklen=2, tickcolor="#aaa", dtick=yminor, showgrid=False), **common))
    shapes.append(dict(type="rect", xref=xa + " domain", yref=ya + " domain", x0=0, x1=1, y0=0, y1=1,
                       fillcolor="#f5f5f5", line=dict(width=0), layer="below"))
    shapes.append(dict(type="circle", xref=xa, yref=ya, x0=-ell[0], x1=ell[0], y0=-ell[1], y1=ell[1],
                       fillcolor="white", line=dict(color="#c8c8c8", width=1), layer="below"))
    for g, name, c in zip(groups, names, colors):
        xs, ys = pts(g)
        fig.add_trace(go.Scatter(x=xs, y=ys, mode="markers", name=name, xaxis=xa, yaxis=ya,
                                 marker=dict(size=8.5, color=c, line=dict(color="#3a3a3a", width=0.5))))
    label(tpos[0], tpos[1], "<b>%s</b>" % title, size=11.5, color="#222")
    label(xpos[0], xpos[1], xlab, size=8, color="#50607a")
    label(ypos[0], ypos[1], ylab, size=7.5, color="#50607a", angle=-90)
    overlay_x.extend([x1, x0])
    overlay_y.extend([y1, y0 - 2])
    overlay_sym.extend(["triangle-right", "triangle-up"])
    for i, (name, c) in enumerate(zip(names, colors)):
        leg_x.append(291.5)
        leg_ys.append(leg_y + i * 10)
        leg_c.append(c)
        label(297.7, leg_y + i * 10, name, size=8, color="#444", anchor="left")


def volcano(box, xr, yr, xdtick, ydtick, down, up, ns, note, note_y, xlab_y, ylab_x, ylab_y, leg_y):
    x0, x1, y0, y1 = box
    tick = dict(family=SERIF, size=8.5, color="#333")
    common = dict(showline=True, mirror=True, linecolor="#777", linewidth=1.6, ticks="outside", ticklen=3,
                  tickcolor="#555", showgrid=False, zeroline=False, tickfont=tick, tickangle=0)
    xa, ya = new_axes(x0, x1, y0, y1,
                      dict(range=xr, dtick=2, tick0=0, minor=dict(ticks="outside", ticklen=2, tickcolor="#555", dtick=xdtick), **common),
                      dict(range=yr, dtick=ydtick, tick0=0, minor=dict(ticks="outside", ticklen=2, tickcolor="#555", dtick=ydtick / 2), **common))
    shapes.append(dict(type="line", xref=xa + " domain", yref=ya, x0=0, x1=1, y0=P_CUT, y1=P_CUT,
                       line=dict(color="#888", width=1, dash="1px,2px"), layer="below"))
    shapes.append(dict(type="line", xref=xa, yref=ya + " domain", x0=0, x1=0, y0=0, y1=1,
                       line=dict(color="#999", width=1, dash="1px,2px"), layer="below"))
    for data, c, name in ((ns, "#808080", "NS"), (down, "#0F2CB8", "Down"), (up, "#E8101A", "Up")):
        xs, ys = pts(data)
        fig.add_trace(go.Scatter(x=xs, y=ys, mode="markers", name=name, xaxis=xa, yaxis=ya,
                                 marker=dict(size=4, color=c, line=dict(width=0))))
    label(605, note_y, note, size=9.5, color="#333", anchor="right")
    label(496.7, xlab_y, "log<sub>2</sub>(Fold Change)", size=9.5, color="#333")
    label(ylab_x, ylab_y, "-log<sub>10</sub>(P-value)", size=9.5, color="#333", angle=-90)
    for i, (name, c) in enumerate((("Down", "#0F2CB8"), ("Up", "#E8101A"))):
        dot_x.append(616)
        dot_y.append(leg_y + i * 11.3)
        dot_c.append(c)
        label(629, leg_y + i * 11.3, name, size=9.5, color="#333", anchor="left")


def impact_size(v):
    return 4 + 135 * np.asarray(v)


def bubbles(box, paths, impact, logp, cmin, cmax, cb_box, cb_ticks, title_pos, imp_pos, imp_vals, imp_ys):
    x0, x1, y0, y1 = box
    ys = list(range(len(paths)))
    common = dict(showline=True, mirror=True, linecolor="#666", linewidth=1.4, ticks="outside", tickcolor="#555",
                  gridcolor="#e6e6e6", gridwidth=1.2, zeroline=False)
    xa, ya = new_axes(x0, x1, y0, y1,
                      dict(range=[0, 0.08], tickvals=[0, 0.02, 0.04, 0.06, 0.08], ticklen=4,
                           tickfont=dict(family=SERIF, size=10, color="#222"),
                           ticktext=["<b>%.2f</b>" % v for v in [0, 0.02, 0.04, 0.06, 0.08]], **common),
                      dict(range=[len(paths) - 0.5, -0.5], tickvals=ys, ticklen=4,
                           tickfont=dict(family=SERIF, size=10.8, color="#222"),
                           ticktext=["<b>%s</b>" % p for p in paths], **common))
    fig.add_trace(go.Scatter(x=impact, y=ys, mode="markers", xaxis=xa, yaxis=ya, name="Pathway",
                             marker=dict(size=impact_size(impact), color=logp, cmin=cmin, cmax=cmax,
                                         colorscale=[[0, "#dedede"], [0.12, "#fbd2ce"], [1, "#f82e2a"]],
                                         line=dict(width=0),
                                         colorbar=dict(x=cb_box[0] / W, xanchor="left", y=1 - cb_box[1] / H, yanchor="top",
                                                       len=cb_box[2], lenmode="pixels", thickness=7, thicknessmode="pixels",
                                                       xpad=0, ypad=0, outlinecolor="#555", outlinewidth=1, ticks="inside",
                                                       ticklen=2, tickcolor="#555", tickvals=cb_ticks,
                                                       ticktext=["%.1f" % t for t in cb_ticks],
                                                       tickfont=dict(family=SERIF, size=10, color="#333")))))
    label(x0 + (x1 - x0) / 2, y1 + 27.5, "<b>Pathway Impact</b>", size=10.5, color="#222")
    label(title_pos[0], title_pos[1], "-log(p)", size=9.5, color="#333")
    label(imp_pos[0], imp_pos[1], "Impact", size=9.5, color="#333")
    for v, y in zip(imp_vals, imp_ys):
        imp_x.append(1047)
        imp_y.append(y)
        imp_s.append(float(impact_size(v)))
        label(1060, y, "%.2f" % v, size=10, color="#333", anchor="left")


def pie_rim(theta, apex, ctr, rx, ry):
    # ray from the pie tip (seen in perspective) out to the top ellipse
    dx, dy = np.sin(theta), -np.cos(theta) * ry / rx
    ox, oy = (apex[0] - ctr[0]) / rx, (apex[1] - ctr[1]) / ry
    a = (dx / rx) ** 2 + (dy / ry) ** 2
    b = 2 * (ox * dx / rx + oy * dy / ry)
    c = ox ** 2 + oy ** 2 - 1
    s = (-b + np.sqrt(b ** 2 - 4 * a * c)) / (2 * a)
    return apex[0] + s * dx, apex[1] + s * dy


def pie(shares, colors, walls, apex, ctr, depth):
    rx, ry = 143, 67.5
    edges = np.cumsum([0] + shares) / sum(shares) * 2 * np.pi
    for i in range(len(shares)):
        t = np.linspace(edges[i], edges[i + 1], 80)
        px, py = pie_rim(t, apex, ctr, rx, ry)
        keep = py >= ctr[1]
        if keep.sum() > 1:
            wx, wy = px[keep], py[keep]
            order = np.argsort(wx) if wx[0] > wx[-1] else np.arange(len(wx))
            wx, wy = wx[order], wy[order]
            fig.add_trace(go.Scatter(x=np.r_[wx, wx[::-1], wx[0]], y=np.r_[wy, wy[::-1] + depth, wy[0]], mode="lines",
                                     xaxis=OV_X, yaxis=OV_Y, fill="toself", line=dict(width=0.6, color="#eee"),
                                     fillgradient=dict(type="horizontal", colorscale=[[0, walls[i][0]], [1, walls[i][1]]])))
    for i in range(len(shares)):
        t = np.linspace(edges[i], edges[i + 1], 80)
        px, py = pie_rim(t, apex, ctr, rx, ry)
        fig.add_trace(go.Scatter(x=np.r_[apex[0], px, apex[0]], y=np.r_[apex[1], py, apex[1]], mode="lines",
                                 xaxis=OV_X, yaxis=OV_Y, fill="toself", fillcolor=colors[i],
                                 line=dict(width=0.8, color="#f4efe4")))


overlay_x, overlay_y, overlay_sym = [], [], []
leg_x, leg_ys, leg_c = [], [], []
dot_x, dot_y, dot_c = [], [], []
imp_x, imp_y, imp_s = [], [], []
P_CUT = 1.3

opls((33.3, 286, 16.7, 178), [-40, 39.8], [-40, 40.2], [-40, -30, -20, -10, 0, 10, 20, 30], ["-40", "-30", "-20", "-10", "0", "10", "20", "30"],
     [-40, -30, -20, -10, 0, 10, 20, 30], ["-40", "-30", "-20", "-10", "0", "10", "20", "30"], 2, 2, (35.8, 29),
     [A_control, A_model, A_valsartan, A_low, A_mid, A_high], GROUPS_1, COLORS_1, "OPLS-DA (ESI+)", (163.5, 8),
     "1.00548 * t[1]", (160, 195), "1.01132 * t[2]", (13, 97), 5.5)
opls((54, 286, 243.3, 403.3), [-200000, 249000], [-200000, 198500], [-200000, -100000, 0, 100000, 200000], ["-2e+005", "-1e+005", "0", "1e+005", "2e+005"],
     [-200000, -150000, -100000, -50000, 0, 50000, 100000, 150000], ["-2e+005", "-1.5e+005", "-1e+005", "-50,000", "0", "50,000", "1e+005", "1.5e+005"], 20000, 10000, (180600, 171500),
     [B_control, B_model, B_valsartan, B_low, B_mid, B_high], GROUPS_1, COLORS_1, "OPLS-DA (ESI-)", (147, 232.7),
     "1.00911 * t[1]", (170.7, 419.3), "1.00865 * t[2]", (13.3, 322.7), 231)
opls((48.7, 286, 465, 627), [-800000, 800000], [-500000, 492000], [-800000, -600000, -400000, -200000, 0, 200000, 400000, 600000], ["-8e+005", "-6e+005", "-4e+005", "-2e+005", "0", "2e+005", "4e+005", "6e+005"],
     [-500000, -400000, -300000, -200000, -100000, 0, 100000, 200000, 300000, 400000], ["-5e+005", "-4e+005", "-3e+005", "-2e+005", "-1e+005", "0", "1e+005", "2e+005", "3e+005", "4e+005"], 50000, 25000, (643000, 423000),
     [G_control, G_model, G_valsartan, G_high, G_low, G_mid], GROUPS_2, COLORS_2, "OPLS-DA (ESI+)", (171, 455.7),
     "1.00113 * t[1]", (166.7, 643.3), "1.00594 * t[2]", (13.3, 545), 454.3)
opls((48.7, 286, 689.3, 850), [-500000, 500000], [-400000, 398000], [-500000, -300000, -100000, 100000, 300000], ["-5e+005", "-3e+005", "-1e+005", "1e+005", "3e+005"],
     [-400000, -300000, -200000, -100000, 0, 100000, 200000, 300000], ["-4e+005", "-3e+005", "-2e+005", "-1e+005", "0", "1e+005", "2e+005", "3e+005"], 50000, 25000, (440000, 293000),
     [H_control, H_model, H_valsartan, H_high, H_low, H_mid], GROUPS_2, COLORS_3, "OPLS-DA (ESI-)", (169.3, 680),
     "1.00138 * t[1]", (166.7, 866.7), "1.00046 * t[2]", (13.3, 769.7), 677.7)

volcano((386, 606.7, 1.7, 180), [-6, 4], [-0.5, 8.49], 1, 2, C_down, C_up, C_ns, "Model <i>vs.</i> Control All", 7.5, 203.5, 367.5, 90, 8)
volcano((386, 606.7, 225, 403.3), [-4, 6], [-0.49, 10], 1, 2, D_down, D_up, D_ns, "BWCX-M <i>vs.</i> Model All", 230.5, 427, 366, 313, 231)
volcano((386, 606.7, 449.3, 626.7), [-4, 6], [-0.46, 9], 1, 2, I_down, I_up, I_ns, "Model <i>vs.</i> Control All", 454.5, 651, 367.5, 540, 455.3)
volcano((386, 606.7, 672.7, 851.7), [-5, 9], [-0.54, 12], 1, 2, J_down, J_up, J_ns, "BWCX-M <i>vs.</i> Model All", 678.3, 875, 365, 762, 679.3)

bubbles((881, 1009.3, 32.3, 160.3), E_paths, E_impact, E_logp, 0.29, 2.17, (1042, 33, 45), [0.5, 1.0, 1.5, 2.0], (1056.7, 23.3), (1054, 100), [0.01, 0.03, 0.07], [116.7, 131, 146])
bubbles((880, 1008.7, 252.7, 381.3), F_paths, F_impact, F_logp, 0.6, 1.88, (1042.7, 255, 46.7), [1.0, 1.5], (1057.7, 244), (1055, 318.7), [0.01, 0.03, 0.06], [335.3, 350, 364.7])

# page-wide axes in pixels for the pies and the hand-placed keys
OV_X, OV_Y = new_axes(0, W, 0, H, dict(range=[0, W], visible=False), dict(range=[H, 0], visible=False))

pie(K_shares, K_colors, K_walls, (876.7, 529.3), (876.7, 540.5), 32)
pie(L_shares, L_colors, L_walls, (876.7, 758.3), (876.7, 769), 32.6)

fig.add_trace(go.Scatter(x=leg_x, y=leg_ys, mode="markers", xaxis=OV_X, yaxis=OV_Y,
                         marker=dict(symbol="square", size=8, color=leg_c, line=dict(width=0.5, color="#ddd"))))
fig.add_trace(go.Scatter(x=dot_x, y=dot_y, mode="markers", xaxis=OV_X, yaxis=OV_Y, marker=dict(size=5, color=dot_c)))
fig.add_trace(go.Scatter(x=imp_x, y=imp_y, mode="markers", xaxis=OV_X, yaxis=OV_Y, marker=dict(size=imp_s, color="black")))
fig.add_trace(go.Scatter(x=overlay_x, y=overlay_y, mode="markers", xaxis=OV_X, yaxis=OV_Y,
                         marker=dict(size=6, color="#aaa", symbol=overlay_sym)))

# panel letters
for letter, x, y in [("A", 10, 13), ("B", 11, 241), ("C", 356.7, 12.7), ("D", 355, 240), ("E", 667, 13), ("F", 667, 242),
                     ("G", 10, 463), ("H", 13, 686), ("I", 355.7, 463), ("J", 352.7, 685), ("K", 675, 463), ("L", 676, 686)]:
    label(x, y, letter, size=23, color="#222")

label(876.7, 455, "Model <i>vs.</i> Control", size=21, color="#222")
label(876, 682.7, "BWCX <i>vs.</i> Model", size=21, color="#222")

# pie labels
for x, y, t, c, ang in [(938, 501.7, "Phosphatidylcholines", "#2d4e70", 0), (938, 511.7, "28%", "#2d4e70", 0),
                        (962.7, 552.3, "Lysophosphatidylethylamine", "#5a3a18", 0), (962.7, 562, "alcohols 14%", "#5a3a18", 0),
                        (896.7, 586.7, "Phosphatidylethanols", "#3c3c3c", 0), (896.7, 596.7, "11%", "#3c3c3c", 0),
                        (811.3, 561.3, "Lysophosphatidylcholines", "#5e4a10", 0), (811.3, 571.3, "18%", "#5e4a10", 0),
                        (831.7, 493.3, "Phosphoglycerols", "#7a3a10", 0), (831.7, 503, "19%", "#7a3a10", 0),
                        (799.3, 517.3, "Phosphatidylinositols 2%", "#1d3f6e", 4), (781, 526, "Triglycerides 5%", "#2a5a2a", 0),
                        (781, 535, "Diacylglycerol esters 3%", "#0a3a6a", -3),
                        (959.3, 785, "Phosphatidylcholines", "#2d4e70", 0), (959.3, 795.3, "64%", "#2d4e70", 0),
                        (788.3, 774.7, "Diacylglycerol esters", "#5a3a18", 0), (788.3, 784.7, "9%", "#5a3a18", 0),
                        (789, 735.3, "Triglycerides", "#4a4a4a", 0), (789, 745, "18%", "#4a4a4a", 0),
                        (850, 711.7, "Phosphatidylinositols", "#5e4a10", 0), (850, 721.7, "9%", "#5e4a10", 0)]:
    label(x, y, "<b>%s</b>" % t, size=8.8, color=c, angle=ang)

fig.update_layout(width=W, height=H, autosize=False, margin=dict(l=0, r=0, t=0, b=0, pad=0, autoexpand=False), showlegend=False,
                  paper_bgcolor="white", plot_bgcolor="rgba(0,0,0,0)", shapes=shapes, annotations=annots,
                  font=dict(family=SERIF), **axes)

fig.write_html("out.html", config={"displayModeBar": False}, post_script="document.body.style.margin='0';")
